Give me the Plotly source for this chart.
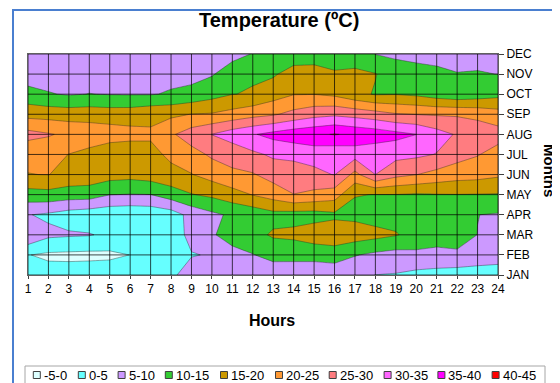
import plotly.graph_objects as go

# ---------------- data ----------------
hours = list(range(1, 25))
months = ["JAN", "FEB", "MAR", "APR", "MAY", "JUN", "JUL", "AUG", "SEP", "OCT", "NOV", "DEC"]

t_jan = [3, 1.8, 2, 2.8, 3, 3, 3, 4.5, 6.2, 7, 7, 7.5, 6.5, 7.8, 6.8, 6.5, 6, 4.95, 4.7, 3.7, 3.3, 2.5, 2, 2.2]
t_feb = [0.15, -0.8, -1, -1.2, -1, 0.05, 1.5, 2.5, 4.85, 5.2, 8.4, 9.8, 11.8, 11.1, 11.6, 12.5, 10.3, 9, 8.2, 8.8, 8.4, 9.2, 8.5, 7.5]
t_mar = [9.5, 6, 5.55, 5.3, 4, 3.5, 3.5, 3.5, 5.8, 9.5, 12, 13.5, 15.6, 16.3, 17.8, 18, 17.5, 16.5, 15.3, 13.5, 12.5, 12, 9.95, 9]
t_apr = [5.2, 4.25, 2.8, 2, 1.4, 1.1, 1.45, 2.6, 6.6, 9, 10.8, 11.7, 13.5, 13, 13, 14, 13.7, 12.9, 13.5, 13, 13, 12.5, 10.05, 9.6]
t_may = [12.9, 13.3, 12.5, 12.4, 10.1, 9.8, 9.95, 12.45, 14.75, 16, 17.9, 20.2, 22.2, 24.9, 23.8, 22.4, 15.2, 14.9, 14.9, 14.5, 14.8, 14.9, 14.8, 14.7]
t_jun = [19.9, 20.1, 18.5, 18, 17.1, 16.7, 17.5, 18.6, 19.8, 22, 24.25, 24.6, 27, 28, 28.7, 30.2, 23.5, 30, 26.5, 25.1, 23.4, 22.2, 21.8, 20.8]
t_jul = [21.1, 22, 19.9, 18.5, 16.6, 16.8, 18.6, 21, 23.2, 25.8, 26.5, 29, 30.8, 31, 32, 31, 32, 31.3, 31.5, 31, 29.8, 27, 25.3, 23]
t_aug = [26.7, 25.4, 24, 23, 22.4, 21.6, 20.7, 24.3, 27.5, 30.1, 32.7, 34.6, 36.5, 38, 39, 40.3, 39, 38, 36.5, 35.05, 32, 29.5, 28, 27]
t_sep = [18.3, 18, 17.7, 17.9, 17.6, 17.7, 18.8, 19, 20.1, 20.4, 21.7, 23.3, 24.4, 26.5, 28.3, 29.1, 28.2, 27, 25.4, 24.85, 24.5, 24.4, 23.7, 22.2]
t_oct = [11.7, 10.3, 9.6, 10.1, 9.8, 9.7, 9.7, 10.5, 11.45, 13.2, 14.9, 15.35, 17.8, 19.8, 19.9, 19, 16.5, 14.6, 14.8, 14.1, 12.5, 11.5, 12.3, 13.5]
t_nov = [7.5, 8, 8, 8, 8, 8, 8, 8.5, 8.4, 9.6, 12.5, 14.5, 14.4, 17, 17.5, 15.7, 16, 15.2, 12.5, 12, 11.5, 10.2, 10.3, 9.95]
t_dec = [6.5, 7, 7, 7, 7, 7, 7, 7, 7, 7.5, 8.5, 10.2, 11.5, 12.35, 12.1, 12, 12.5, 9.9, 9.1, 8.4, 7.75, 8, 8.6, 7.5]

band_labels = ["-5-0", "0-5", "5-10", "10-15", "15-20", "20-25", "25-30", "30-35", "35-40", "40-45"]
band_edges = [-5, 0, 5, 10, 15, 20, 25, 30, 35, 40, 45]
band_colors = ["#DDFFFF", "#66FFFF", "#CC99FF", "#33CC33", "#CC9900",
               "#FF9933", "#FF7C80", "#FF66FF", "#FF00FF", "#FF0000"]

# ---------------- layout helpers ----------------
# the page body has an 8px margin, so the figure is 8px smaller than the window
PAGE_OFF = 8
W, H = 560 - PAGE_OFF, 383 - PAGE_OFF
ML, MR, MT, MB = 28 - PAGE_OFF, 62, 54 - PAGE_OFF, 108
PW = W - ML - MR
PH = H - MT - MB


def px_x(px):
    """window pixel x -> paper coordinate"""
    return (px - PAGE_OFF - ML) / PW


def px_y(py):
    """window pixel y -> paper coordinate"""
    return (H - MB - (py - PAGE_OFF)) / PH


z = [t_jan, t_feb, t_mar, t_apr, t_may, t_jun, t_jul, t_aug, t_sep, t_oct, t_nov, t_dec]
month_pos = list(range(len(months)))

n = len(band_colors)
colorscale = [[i / (n - 1), c] for i, c in enumerate(band_colors)]
step = band_edges[1] - band_edges[0]

fig = go.Figure()
fig.add_trace(go.Contour(
    x=hours, y=month_pos, z=z,
    colorscale=colorscale,
    contours=dict(start=band_edges[1], end=band_edges[-2], size=step,
                  coloring="fill", showlines=True),
    line=dict(color="rgba(40,40,40,0.5)", width=0.8, smoothing=0),
    showscale=False, hoverinfo="skip",
))

shapes = []
grid_line = dict(color="rgba(0,0,0,0.72)", width=1)
for h in hours:
    shapes.append(dict(type="line", xref="x", yref="paper", x0=h, x1=h, y0=0, y1=1,
                       line=grid_line, layer="above"))
for m in month_pos:
    shapes.append(dict(type="line", xref="paper", yref="y", x0=0, x1=1, y0=m, y1=m,
                       line=grid_line, layer="above"))

# outer chart-area border (blue)
shapes.append(dict(type="rect", xref="paper", yref="paper",
                   x0=px_x(13), x1=px_x(580), y0=px_y(400), y1=px_y(10),
                   line=dict(color="#4A7FD0", width=2), fillcolor="rgba(0,0,0,0)",
                   layer="above"))

# legend (manual, one row, boxed)
legend_top, legend_mid = 366, 375
shapes.append(dict(type="rect", xref="paper", yref="paper",
                   x0=px_x(25), x1=px_x(545), y0=px_y(392), y1=px_y(legend_top),
                   line=dict(color="#A6A6A6", width=1), fillcolor="rgba(0,0,0,0)"))
legend_sq_x = [36.8, 81.8, 121.6, 168.8, 224, 279, 332.7, 387.6, 441.4, 495.6]
sq = 3.5
annotations = []
for cx, lab, col in zip(legend_sq_x, band_labels, band_colors):
    shapes.append(dict(type="rect", xref="paper", yref="paper",
                       x0=px_x(cx - sq), x1=px_x(cx + sq),
                       y0=px_y(legend_mid + sq), y1=px_y(legend_mid - sq),
                       line=dict(color="#404040", width=1), fillcolor=col))
    annotations.append(dict(text=lab, xref="paper", yref="paper",
                            x=px_x(cx + 5), y=px_y(legend_mid), xanchor="left", yanchor="middle",
                            showarrow=False, font=dict(size=13, color="#000000")))

annotations.append(dict(text="<b>Temperature (ºC)</b>", xref="paper", yref="paper",
                        x=px_x(279), y=px_y(20), xanchor="center", yanchor="middle",
                        showarrow=False, font=dict(size=20, color="#000000")))
annotations.append(dict(text="<b>Hours</b>", xref="paper", yref="paper",
                        x=px_x(272), y=px_y(320), xanchor="center", yanchor="middle",
                        showarrow=False, font=dict(size=16, color="#000000")))
annotations.append(dict(text="<b>Months</b>", xref="paper", yref="paper",
                        x=px_x(550), y=px_y(170), xanchor="center", yanchor="middle",
                        textangle=90, showarrow=False, font=dict(size=15, color="#000000")))

fig.update_layout(
    width=W, height=H,
    margin=dict(l=ML, r=MR, t=MT, b=MB, pad=0),
    paper_bgcolor="white", plot_bgcolor="white",
    font=dict(family="Liberation Sans, Arial, sans-serif", size=12, color="#000000"),
    showlegend=False,
    shapes=shapes,
    annotations=annotations,
    xaxis=dict(range=[hours[0], hours[-1]], tickvals=hours, ticks="outside", ticklen=3,
               tickcolor="#404040", showgrid=False, zeroline=False,
               showline=True, mirror=True, linecolor="#606060", linewidth=1,
               tickfont=dict(size=12)),
    yaxis=dict(range=[month_pos[0], month_pos[-1]], tickvals=month_pos, ticktext=months,
               side="right", ticks="outside", ticklen=5, tickcolor="#404040",
               showgrid=False, zeroline=False,
               showline=True, mirror=True, linecolor="#606060", linewidth=1,
               tickfont=dict(size=12)),
)

fig.write_html("out.html")
